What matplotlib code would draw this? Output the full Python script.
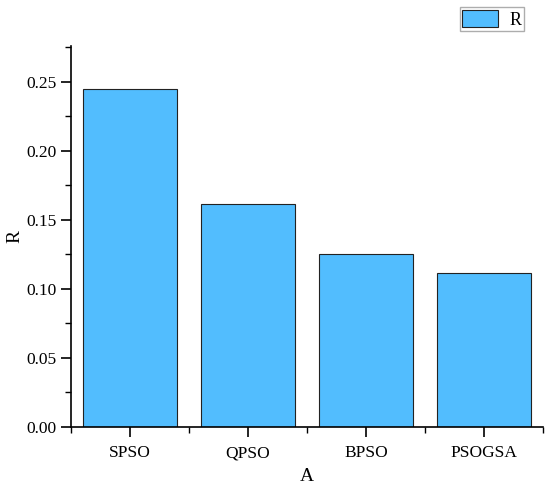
import numpy as np
import matplotlib
matplotlib.use("Agg")
import matplotlib.pyplot as plt
from matplotlib.ticker import MultipleLocator, FormatStrFormatter

categories = ["SPSO", "QPSO", "BPSO", "PSOGSA"]
values = [0.2445, 0.1615, 0.1251, 0.1114]

plt.rcParams["font.family"] = ["Liberation Serif", "DejaVu Serif"]

figure = plt.figure(figsize=(5.5, 4.88), dpi=100)
axis = figure.add_axes([0.129, 0.125, 0.858, 0.781])

positions = np.arange(1, len(categories) + 1)
axis.bar(positions, values, width=0.8, color="#52BDFE",
         edgecolor="#222222", linewidth=0.8, label="R")

axis.set_xlim(0.5, len(categories) + 0.5)
axis.set_ylim(0, 0.276)
axis.set_xticks(positions)
axis.set_xticklabels(categories)
axis.xaxis.set_minor_locator(MultipleLocator(1, offset=0.5))
axis.yaxis.set_major_locator(MultipleLocator(0.05))
axis.yaxis.set_minor_locator(MultipleLocator(0.025))
axis.yaxis.set_major_formatter(FormatStrFormatter("%.2f"))

for side in ("top", "right"):
    axis.spines[side].set_visible(False)
for side in ("left", "bottom"):
    axis.spines[side].set_linewidth(1.2)

axis.tick_params(axis="both", which="major", direction="out", length=7,
                 width=1.2, labelsize=12.5)
axis.tick_params(axis="both", which="minor", direction="out", length=4,
                 width=1.0)
axis.tick_params(axis="x", which="major", pad=6)

axis.set_xlabel("A", fontsize=14, labelpad=5)
axis.set_ylabel("R", fontsize=14, labelpad=2)

legend = axis.legend(loc="upper right", bbox_to_anchor=(0.96, 1.102),
                     fontsize=13, frameon=True, fancybox=False,
                     handlelength=2.0, handleheight=1.1, borderpad=0.15,
                     handletextpad=0.6, borderaxespad=0)
legend.get_frame().set_edgecolor("#999999")
legend.get_frame().set_linewidth(1.0)

figure.savefig("out.png", dpi=100)
